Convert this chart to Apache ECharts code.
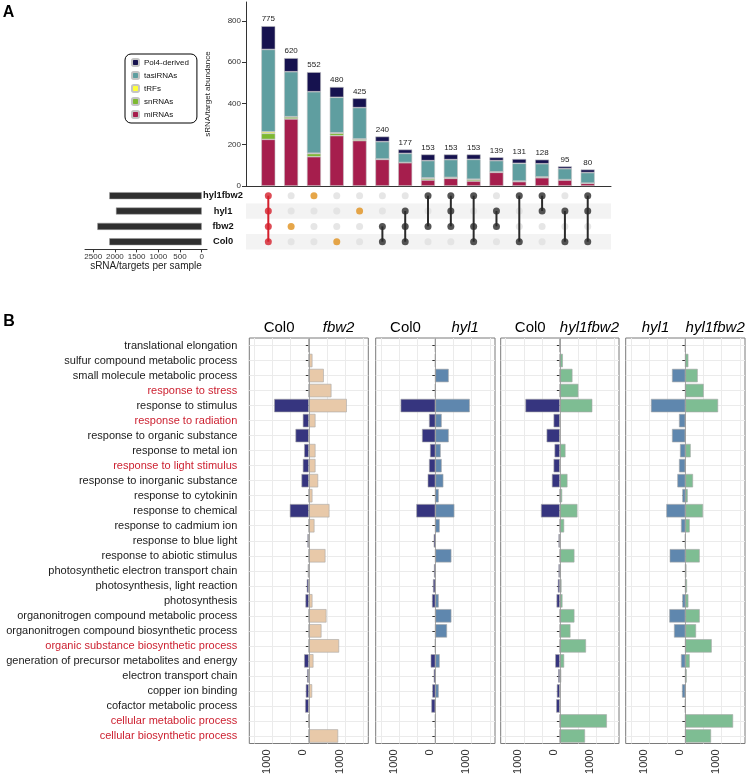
<!DOCTYPE html>
<html><head><meta charset="utf-8">
<script src="https://cdn.jsdelivr.net/npm/echarts@6/dist/echarts.min.js"></script>
<style>html,body{margin:0;padding:0;background:#fff}#c{width:747px;height:781px}</style>
</head><body><div id="c"></div>
<script>
// ---------- Panel A data ----------
const intersectionTotals = [775,620,552,480,425,240,177,153,153,153,139,131,128,95,80];
const miRNAs   = [226,325,142,244,220,129,113,29,37,24,66,21,40,29,13];
const snRNAs   = [29,10,15,12,7,2,1,8,5,8,3,3,4,2,1];
const tRFs     = [8,1,2,2,1,0,0,2,0,1,0,0,0,0,0];
const tasiRNAs = [399,218,298,172,152,84,44,84,86,96,54,86,64,53,51];
const pol4     = [113,66,95,50,45,25,19,30,25,24,16,21,20,11,15];
const sampleSets = ['Col0','fbw2','hyl1','hyl1fbw2']; // bottom to top
const setSizes = [2129,2405,1975,2129];
const memberships = [
  ['hyl1fbw2','hyl1','fbw2','Col0'],
  ['fbw2'], ['hyl1fbw2'], ['Col0'], ['hyl1'],
  ['fbw2','Col0'], ['hyl1','fbw2','Col0'], ['hyl1fbw2','fbw2'], ['hyl1fbw2','hyl1','fbw2'],
  ['hyl1fbw2','fbw2','Col0'], ['hyl1','fbw2'], ['hyl1fbw2','Col0'], ['hyl1fbw2','hyl1'],
  ['hyl1','Col0'], ['hyl1fbw2','hyl1','Col0']
];
const abundanceTicks = [0,200,400,600,800];
const setSizeTicks = [0,500,1000,1500,2000,2500];

// ---------- Panel B data ----------
const goTerms = [
 'translational elongation','sulfur compound metabolic process','small molecule metabolic process',
 'response to stress','response to stimulus','response to radiation','response to organic substance',
 'response to metal ion','response to light stimulus','response to inorganic substance',
 'response to cytokinin','response to chemical','response to cadmium ion','response to blue light',
 'response to abiotic stimulus','photosynthetic electron transport chain','photosynthesis, light reaction',
 'photosynthesis','organonitrogen compound metabolic process','organonitrogen compound biosynthetic process',
 'organic substance biosynthetic process','generation of precursor metabolites and energy',
 'electron transport chain','copper ion binding','cofactor metabolic process',
 'cellular metabolic process','cellular biosynthetic process'
];
const highlightedTerms = ['response to stress','response to radiation','response to light stimulus',
 'organic substance biosynthetic process','cellular metabolic process','cellular biosynthetic process'];
const p1Col0 = [0,0,0,0,955,165,367,128,165,202,0,523,0,37,0,28,55,92,0,0,0,128,46,83,101,0,0];
const p1fbw2 = [0,100,413,624,1047,184,0,184,184,257,100,569,156,0,459,0,0,100,487,349,835,128,0,92,0,0,808];
const p2Col0 = [0,0,0,0,955,174,367,147,174,211,0,523,0,46,0,37,64,92,0,0,0,128,46,83,110,0,0];
const p2hyl1 = [0,0,367,0,946,174,367,147,174,220,92,523,119,0,441,0,0,92,441,321,0,119,0,92,0,0,0];
const p3Col0 = [0,0,0,0,955,174,367,147,174,220,0,523,0,37,0,37,55,92,0,0,0,128,46,83,101,0,0];
const p3hyl1fbw2 = [0,83,349,514,900,0,0,156,0,211,64,487,119,0,404,28,46,73,404,294,725,119,37,0,0,1304,698];
const p4hyl1 = [0,0,367,0,946,174,367,147,174,220,83,523,119,0,431,0,0,83,441,312,0,119,0,92,0,0,0];
const p4hyl1fbw2 = [0,83,340,505,900,0,0,147,0,211,64,487,119,0,395,28,46,83,395,294,725,119,37,0,0,1313,707];
const countTicks = [-1500,-1000,-500,0,500,1000,1500];
const countLabels = [-1000,0,1000];

// ---------- styling ----------
const FONT = 'Liberation Sans, Arial, Helvetica, sans-serif';
const C = {mi:'#A61E4D', sn:'#7DB930', trf:'#FFFF3A', tasi:'#5F9EA0', pol:'#16124F',
           col0:'#36357F', fbw2:'#E8C9A9', hyl1:'#5F87AE', hf2:'#7EBD93',
           red:'#D41F2C', orange:'#E0901C', dark:'#2B2B2B', grey:'#E0E0E0'};

const chart = echarts.init(document.getElementById('c'), null, {renderer:'canvas'});

const intersectionNames = memberships.map(m => m.join(' & '));
const xMin = -0.978, xMax = 15.02;
const stackDefs = [['miRNAs',miRNAs,C.mi],['snRNAs',snRNAs,C.sn],['tRFs',tRFs,C.trf],['tasiRNAs',tasiRNAs,C.tasi],['Pol4-derived',pol4,C.pol]];

const series = [];
stackDefs.forEach(([name, arr, color], k) => {
  const s = {
    type:'bar', name, stack:'ab', xAxisIndex:0, yAxisIndex:0, barWidth:14,
    data: arr,
    itemStyle:{color, borderColor:'#c4c4c4', borderWidth:0.6},
    emphasis:{disabled:true}
  };
  if (k === stackDefs.length-1) {
    s.label = {show:true, position:'top', distance:3, fontSize:8, fontFamily:FONT, color:'#222',
               formatter: p => String(intersectionTotals[p.dataIndex])};
  }
  series.push(s);
});

// matrix
const greyDots = [], colDots = [], lineData = [];
memberships.forEach((m, i) => {
  const idx = m.map(s => sampleSets.indexOf(s));
  const col = m.length === 4 ? C.red : (m.length === 1 ? C.orange : C.dark);
  sampleSets.forEach((s, j) => {
    if (idx.indexOf(j) < 0) greyDots.push([i, j]);
    else colDots.push({value:[i, j], itemStyle:{color:col}});
  });
  if (idx.length > 1) lineData.push([i, Math.min(...idx), Math.max(...idx), m.length]);
});
series.push({type:'scatter', xAxisIndex:1, yAxisIndex:1, symbolSize:7, data:greyDots,
  itemStyle:{color:C.grey}, z:2, silent:true});
series.push({type:'custom', xAxisIndex:1, yAxisIndex:1, z:3, data:lineData, silent:true,
  encode:{x:0, y:[1,2]},
  renderItem(params, api){
    const i = api.value(0), lo = api.value(1), hi = api.value(2), n = api.value(3);
    const p1 = api.coord([i, lo]), p2 = api.coord([i, hi]);
    return {type:'line', shape:{x1:p1[0], y1:p1[1], x2:p2[0], y2:p2[1]},
            style:{stroke: n === 4 ? C.red : C.dark, lineWidth:2}};
  }});
series.push({type:'scatter', xAxisIndex:1, yAxisIndex:1, symbolSize:7, data:colDots, z:4, silent:true});

// set sizes
series.push({type:'bar', xAxisIndex:2, yAxisIndex:2, barWidth:7, data:setSizes,
  itemStyle:{color:'#2F2F2F', borderColor:'#9a9a9a', borderWidth:0.5}, silent:true});

// ---------- Panel B ----------
const panels = [
  {left:249.3, width:119, L:p1Col0, R:p1fbw2, lc:C.col0, rc:C.fbw2, lt:'Col0', rt:'fbw2', li:false},
  {left:375.7, width:119.3, L:p2Col0, R:p2hyl1, lc:C.col0, rc:C.hyl1, lt:'Col0', rt:'hyl1', li:false},
  {left:500.7, width:118.3, L:p3Col0, R:p3hyl1fbw2, lc:C.col0, rc:C.hf2, lt:'Col0', rt:'hyl1fbw2', li:false},
  {left:625.7, width:119.3, L:p4hyl1, R:p4hyl1fbw2, lc:C.hyl1, rc:C.hf2, lt:'hyl1', rt:'hyl1fbw2', li:true}
];
const BT = 338, BH = 405.5;
const grids = [
  {left:256.9, top:2, width:342.2, height:184},
  {left:246, top:188, width:365, height:61.4},
  {left:85, top:188, width:122, height:61.4},
  {left:246, top:185, width:365, height:1}
];
const plain = v => String(v);
const xAxes = [
  {gridIndex:0, type:'category', data:intersectionNames, axisLine:{show:false},
   axisTick:{show:false}, axisLabel:{show:false}, splitLine:{show:false}},
  {gridIndex:1, type:'value', min:xMin, max:xMax, show:false},
  {gridIndex:2, type:'value', inverse:true, min:-122, max:2689,
   axisLine:{show:true, lineStyle:{color:'#333'}},
   axisTick:{show:true, length:3, customValues:setSizeTicks, lineStyle:{color:'#333'}},
   axisLabel:{customValues:setSizeTicks, fontSize:8, fontFamily:FONT, color:'#333', margin:3, formatter:plain},
   splitLine:{show:false},
   name:'sRNA/targets per sample', nameLocation:'middle', nameGap:11,
   nameTextStyle:{fontSize:10, fontFamily:FONT, color:'#222'}},
  {gridIndex:3, type:'value', min:0, max:1, position:'bottom',
   axisLine:{show:true, lineStyle:{color:'#333', width:1}},
   axisTick:{show:false}, axisLabel:{show:false}, splitLine:{show:false}}
];
const yAxes = [
  {gridIndex:0, type:'value', min:0, max:892, offset:10.9,
   axisLine:{show:true, lineStyle:{color:'#333'}},
   axisTick:{show:true, length:4, customValues:abundanceTicks, lineStyle:{color:'#333'}},
   axisLabel:{customValues:abundanceTicks, fontSize:8, fontFamily:FONT, color:'#333', margin:5, formatter:plain},
   splitLine:{show:false},
   name:'sRNA/target abundance', nameLocation:'middle', nameGap:34, nameRotate:90,
   nameTextStyle:{fontSize:8, fontFamily:FONT, color:'#222'}},
  {gridIndex:1, type:'category', data:sampleSets,
   axisLine:{show:false}, axisTick:{show:false},
   axisLabel:{fontSize:9.3, fontWeight:'bold', fontFamily:FONT, color:'#111', align:'center', margin:23},
   splitLine:{show:false},
   splitArea:{show:true, areaStyle:{color:['#F3F3F3','#FFFFFF']}}},
  {gridIndex:2, type:'category', data:sampleSets, show:false},
  {gridIndex:3, type:'value', show:false}
];

panels.forEach((p, k) => {
  const g = grids.length;
  grids.push({left:p.left, top:BT, width:p.width, height:BH, show:true,
              borderColor:'#7a7a7a', borderWidth:1, backgroundColor:'#fff'});
  xAxes.push({gridIndex:g, type:'value', min:-1640, max:1640,
    axisLine:{show:false},
    axisTick:{show:false, customValues:countTicks},
    axisLabel:{customValues:countLabels, rotate:90, fontSize:11, fontFamily:FONT, color:'#333', margin:6,
               verticalAlign:'bottom', formatter: v => String(Math.abs(v))},
    splitLine:{show:true, lineStyle:{color:'#EBEBEB', width:1}}});
  yAxes.push({gridIndex:g, type:'category', data:goTerms, inverse:true,
    axisLine:{show:false},
    axisTick:{show:true, length:3, alignWithLabel:true, lineStyle:{color:'#333'}},
    axisLabel:{show:k===0, fontSize:11, fontFamily:FONT, margin:12,
               color: v => highlightedTerms.indexOf(v) >= 0 ? '#CC1F2F' : '#1a1a1a'},
    splitLine:{show:true, alignWithLabel:true, lineStyle:{color:'#EBEBEB', width:1.2}}});
  series.push({type:'bar', xAxisIndex:g, yAxisIndex:g, barWidth:'89%', barGap:'-100%',
    data:p.L.map(v => -v), itemStyle:{color:p.lc, borderColor:'#a8a8a8', borderWidth:0.6}, silent:true});
  series.push({type:'bar', xAxisIndex:g, yAxisIndex:g, barWidth:'89%', barGap:'-100%',
    data:p.R, itemStyle:{color:p.rc, borderColor:'#a8a8a8', borderWidth:0.6}, silent:true,
    markLine:{silent:true, symbol:'none', label:{show:false}, data:[{xAxis:0}],
              lineStyle:{color:'#999', width:0.8, type:'solid'}}});
});

const graphic = [
  {type:'text', x:8.5, y:12.5, style:{text:'A', font:'bold 16px '+FONT, fill:'#000', align:'center', verticalAlign:'middle', textAlign:'center', textVerticalAlign:'middle'}},
  {type:'text', x:9, y:322, style:{text:'B', font:'bold 16px '+FONT, fill:'#000', align:'center', verticalAlign:'middle', textAlign:'center', textVerticalAlign:'middle'}}
];
panels.forEach(p => {
  const mid = p.left + p.width/2;
  const lx = (p.left + mid)/2, rx = (mid + p.left + p.width)/2;
  graphic.push({type:'text', x:lx, y:327.5, style:{text:p.lt, font:(p.li?'italic ':'')+'15px '+FONT, fill:'#000',
    align:'center', verticalAlign:'middle', textAlign:'center', textVerticalAlign:'middle'}});
  graphic.push({type:'text', x:rx, y:327.5, style:{text:p.rt, font:'italic 15px '+FONT, fill:'#000',
    align:'center', verticalAlign:'middle', textAlign:'center', textVerticalAlign:'middle'}});
});

chart.setOption({
  backgroundColor:'#fff',
  animation:false,
  textStyle:{fontFamily:FONT},
  legend:{data:['Pol4-derived','tasiRNAs','tRFs','snRNAs','miRNAs'], orient:'vertical',
    left:125, top:54, selectedMode:false, itemWidth:7, itemHeight:7, itemGap:2,
    padding:[3,8,3,6], borderColor:'#000', borderWidth:1, borderRadius:6,
    textStyle:{fontSize:8, fontFamily:FONT, color:'#111', lineHeight:11}},
  grid:grids, xAxis:xAxes, yAxis:yAxes, series, graphic
});
</script></body></html>
